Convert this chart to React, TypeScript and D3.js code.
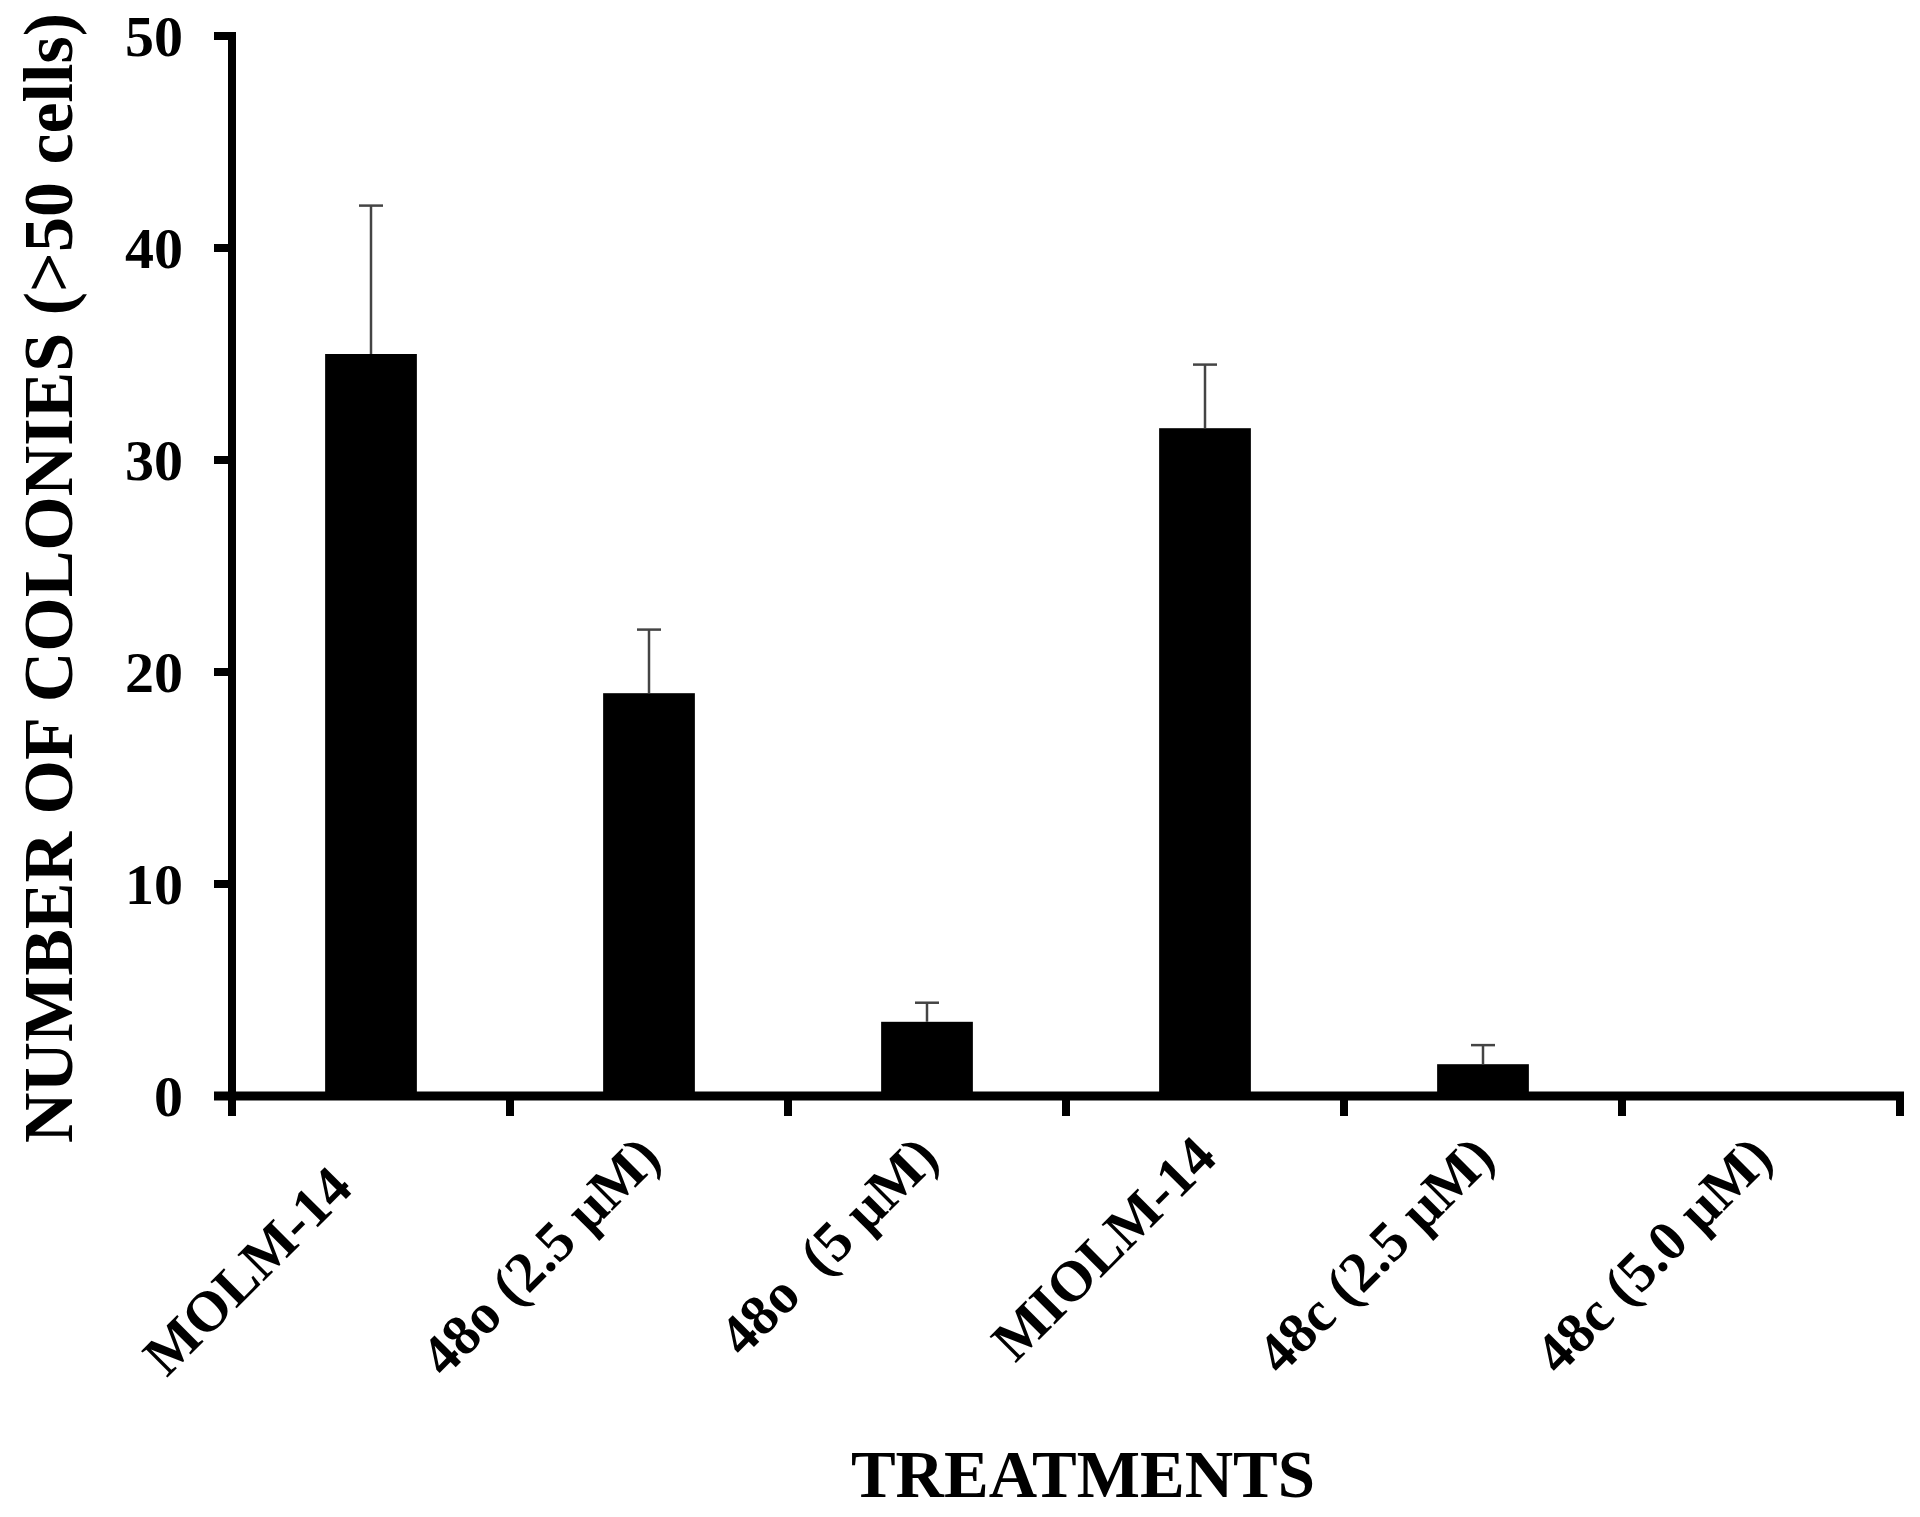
import React from "react";
import * as d3 from "d3";

const categories = ["MOLM-14   ", "48o (2.5 μM)", "48o  (5 μM)", "MIOLM-14", "48c (2.5 μM)", "48c (5.0 μM)"];
const values = [35, 19, 3.5, 31.5, 1.5, 0];
const errors = [7, 3, 0.9, 3, 0.9, 0];
const yTicks = [0, 10, 20, 30, 40, 50];

const W = 1920;
const H = 1517;
const FONT = "'Liberation Serif', 'Times New Roman', serif";

export default function App() {
  const x = d3.scaleBand<string>().domain(categories).range([232, 1900]).padding(0);
  const y = d3.scaleLinear().domain([0, 50]).range([1096, 36]);
  const barW = x.bandwidth() * 0.33;
  const capW = 24;
  const boundaries = [...categories.map((c) => x(c) as number), 1900];

  return (
    <svg width={W} height={H} style={{ display: "block", position: "absolute", left: 0, top: 0, background: "#fff" }}>
      <rect x={0} y={0} width={W} height={H} fill="#fff" />
      {/* bars */}
      {categories.map((c, i) => {
        const cx = (x(c) as number) + x.bandwidth() / 2;
        return values[i] > 0 ? (
          <rect key={"b" + i} x={cx - barW / 2} y={y(values[i])} width={barW} height={y(0) - y(values[i])} fill="#000" />
        ) : null;
      })}
      {/* error bars */}
      {categories.map((c, i) => {
        if (errors[i] <= 0) return null;
        const cx = (x(c) as number) + x.bandwidth() / 2;
        return (
          <g key={"e" + i} stroke="#444" strokeWidth={2.5}>
            <line x1={cx} x2={cx} y1={y(values[i])} y2={y(values[i] + errors[i])} />
            <line x1={cx - capW / 2} x2={cx + capW / 2} y1={y(values[i] + errors[i])} y2={y(values[i] + errors[i])} />
          </g>
        );
      })}
      {/* y axis */}
      <line x1={232} x2={232} y1={y(50) - 4} y2={y(0) + 4} stroke="#000" strokeWidth={8} />
      {yTicks.map((t) => (
        <g key={"yt" + t}>
          <line x1={214} x2={232} y1={y(t)} y2={y(t)} stroke="#000" strokeWidth={8} />
          <text x={183} y={y(t)} dy="0.34em" textAnchor="end" fontFamily={FONT} fontWeight="bold" fontSize={58} fill="#000">
            {t}
          </text>
        </g>
      ))}
      {/* x axis */}
      <line x1={214} x2={1904} y1={y(0)} y2={y(0)} stroke="#000" strokeWidth={9} />
      {boundaries.map((b, i) => (
        <line key={"xt" + i} x1={b} x2={b} y1={y(0)} y2={1116} stroke="#000" strokeWidth={8} />
      ))}
      {/* x tick labels */}
      {categories.map((c, i) => {
        const cx = (x(c) as number) + x.bandwidth() / 2;
        const ax = cx + 14;
        const ay = 1160;
        return (
          <text
            key={"xl" + i}
            x={ax}
            y={ay}
            transform={`rotate(-45, ${ax}, ${ay})`}
            textAnchor="end"
            fontFamily={FONT}
            fontWeight="bold"
            fontSize={57}
            fill="#000"
            style={{ whiteSpace: "pre" }}
          >
            {c}
          </text>
        );
      })}
      {/* axis titles */}
      <text x={1083} y={1497} textAnchor="middle" fontFamily={FONT} fontWeight="bold" fontSize={67} fill="#000">
        TREATMENTS
      </text>
      <text
        x={0}
        y={0}
        transform={`translate(72, 578) rotate(-90)`}
        textAnchor="middle"
        fontFamily={FONT}
        fontWeight="bold"
        fontSize={70}
        fill="#000"
      >
        NUMBER OF COLONIES (&gt;50 cells)
      </text>
    </svg>
  );
}
